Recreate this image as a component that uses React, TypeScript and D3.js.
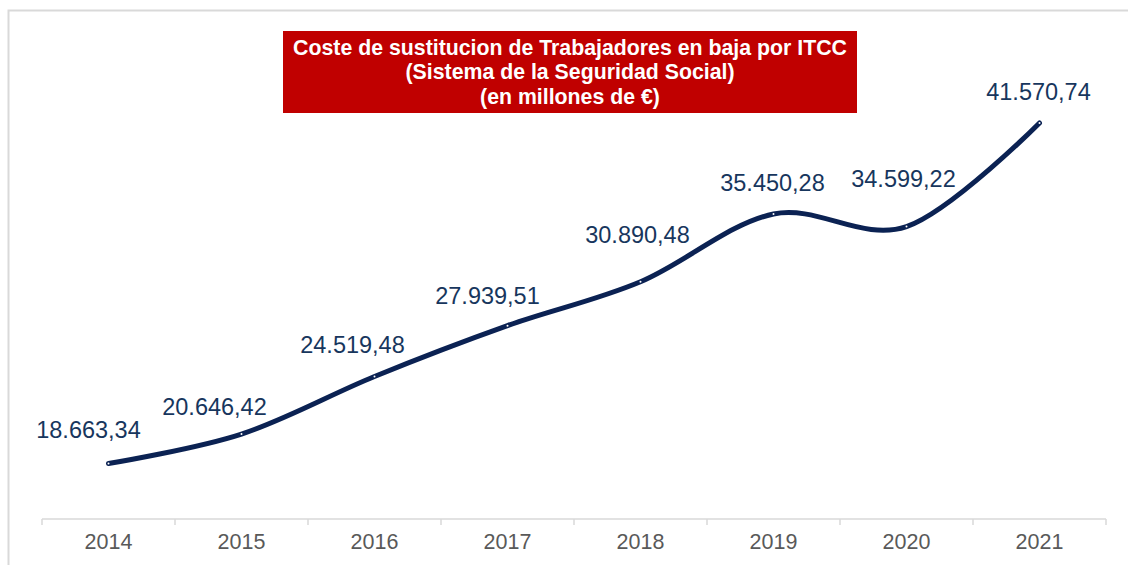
import React, { useEffect, useRef } from 'react';
import * as d3 from 'd3';

const years = ['2014', '2015', '2016', '2017', '2018', '2019', '2020', '2021'];
const values = [18663.34, 20646.42, 24519.48, 27939.51, 30890.48, 35450.28, 34599.22, 41570.74];
const valueLabels = ['18.663,34', '20.646,42', '24.519,48', '27.939,51', '30.890,48', '35.450,28', '34.599,22', '41.570,74'];
const titleLines = [
  'Coste de sustitucion de Trabajadores en baja por ITCC',
  '(Sistema de la Seguridad Social)',
  '(en millones de €)',
];

// hand-placed label nudges (dx, dy from the point), as in the original
const labelNudge: [number, number][] = [
  [-20, -26], [-27, -19], [-22, -23], [-20, -22], [-3, -39], [-1, -23], [-3, -40], [-1, -23],
];

const W = 1128;
const H = 565;

export default function App() {
  const svgRef = useRef<SVGSVGElement>(null);

  useEffect(() => {
    if (!svgRef.current) return;
    const svg = d3.select(svgRef.current);
    svg.selectAll('*').remove();

    const font = 'Arial, "Liberation Sans", sans-serif';

    // outer frame
    svg.append('rect')
      .attr('x', 8.5).attr('y', 10.5)
      .attr('width', 1140).attr('height', 600)
      .attr('fill', '#fff')
      .attr('stroke', '#d9d9d9').attr('stroke-width', 2);

    const x = d3.scaleBand<string>().domain(years).range([42, 1106]);
    const y = d3.scaleLinear().domain([15000, 45000]).range([518, 72]);

    // x axis
    const axisY = 519;
    svg.append('line')
      .attr('x1', 42).attr('x2', 1106)
      .attr('y1', axisY).attr('y2', axisY)
      .attr('stroke', '#d9d9d9').attr('stroke-width', 1.5);

    const tickXs = years.map(yr => x(yr)!).concat([x(years[years.length - 1])! + x.bandwidth()]);
    svg.selectAll('.tick')
      .data(tickXs)
      .enter()
      .append('line')
      .attr('x1', d => d).attr('x2', d => d)
      .attr('y1', axisY).attr('y2', axisY + 6)
      .attr('stroke', '#d9d9d9').attr('stroke-width', 1.5);

    svg.selectAll('.xlabel')
      .data(years)
      .enter()
      .append('text')
      .attr('x', d => x(d)! + x.bandwidth() / 2)
      .attr('y', 549)
      .attr('text-anchor', 'middle')
      .attr('font-family', font)
      .attr('font-size', '21.5px')
      .attr('fill', '#595959')
      .text(d => d);

    // line
    const pts = years.map((yr, i) => [x(yr)! + x.bandwidth() / 2, y(values[i])] as [number, number]);
    const line = d3.line<[number, number]>()
      .x(d => d[0])
      .y(d => d[1])
      .curve(d3.curveCardinal.tension(0));

    svg.append('path')
      .datum(pts)
      .attr('fill', 'none')
      .attr('stroke', '#0b2253')
      .attr('stroke-width', 5)
      .attr('stroke-linecap', 'round')
      .attr('d', line);

    // tiny markers
    svg.selectAll('.marker')
      .data(pts)
      .enter()
      .append('circle')
      .attr('cx', d => d[0])
      .attr('cy', d => d[1])
      .attr('r', 1)
      .attr('fill', '#fff');

    // value labels
    svg.selectAll('.vlabel')
      .data(pts)
      .enter()
      .append('text')
      .attr('x', (d, i) => d[0] + labelNudge[i][0])
      .attr('y', (d, i) => d[1] + labelNudge[i][1])
      .attr('text-anchor', 'middle')
      .attr('font-family', font)
      .attr('font-size', '23.5px')
      .attr('fill', '#17365d')
      .text((d, i) => valueLabels[i]);

    // title box
    svg.append('rect')
      .attr('x', 283).attr('y', 31)
      .attr('width', 574).attr('height', 82)
      .attr('fill', '#c00000');

    svg.selectAll('.title')
      .data(titleLines)
      .enter()
      .append('text')
      .attr('x', 570)
      .attr('y', (d, i) => 55 + i * 24.3)
      .attr('text-anchor', 'middle')
      .attr('font-family', font)
      .attr('font-weight', 'bold')
      .attr('font-size', '21.3px')
      .attr('fill', '#fff')
      .text(d => d);
  }, []);

  return (
    <svg
      ref={svgRef}
      width={W}
      height={H}
      style={{ position: 'absolute', left: 0, top: 0, background: '#fff' }}
    />
  );
}
